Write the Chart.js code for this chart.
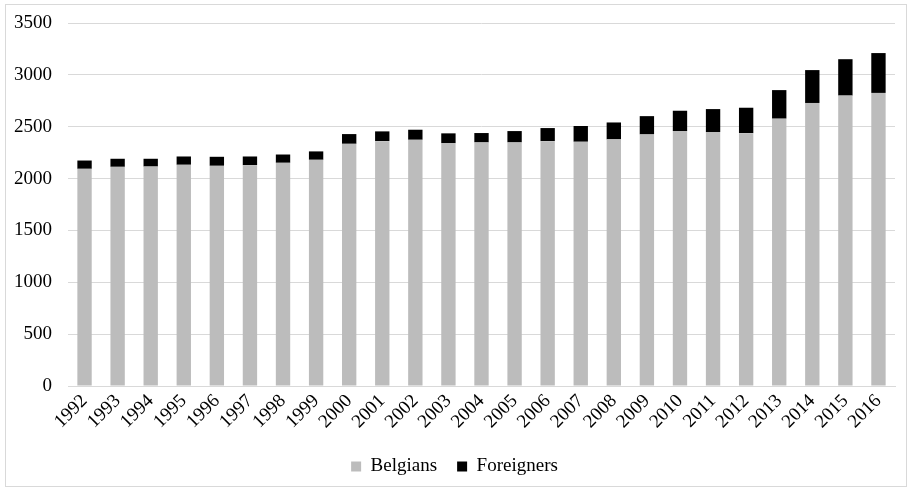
<!DOCTYPE html>
<html>
<head>
<meta charset="utf-8">
<script src="https://cdn.jsdelivr.net/npm/chart.js@4"></script>
<style>
  body { margin: 0; background: #fff; }
  #wrap { position: absolute; left: 5px; top: 4px; width: 900px; height: 481px; border: 1px solid #d9d9d9; }
</style>
</head>
<body>
<div id="wrap"><canvas id="chart"></canvas></div>
<script>
const years = ['1992', '1993', '1994', '1995', '1996', '1997', '1998', '1999', '2000', '2001', '2002', '2003', '2004',
  '2005', '2006', '2007', '2008', '2009', '2010', '2011', '2012', '2013', '2014', '2015', '2016'];
const belgians = [2094, 2113, 2116, 2133, 2123, 2129, 2152, 2181, 2335, 2361, 2374, 2342, 2349,
  2349, 2361, 2355, 2378, 2426, 2458, 2448, 2438, 2578, 2729, 2800, 2826];
const foreigners = [80, 78, 75, 80, 87, 84, 80, 81, 94, 94, 97, 94, 90,
  109, 126, 152, 163, 176, 196, 222, 245, 275, 317, 351, 384];

const serif = 'Liberation Serif';

const ctx = document.getElementById('chart').getContext('2d');
new Chart(ctx, {
  type: 'bar',
  data: {
    labels: years,
    datasets: [
      {label: 'Belgians', data: belgians, backgroundColor: '#bcbcbc', barPercentage: 0.62, categoryPercentage: 0.7},
      {label: 'Foreigners', data: foreigners, backgroundColor: '#000000', barPercentage: 0.62, categoryPercentage: 0.7}
    ]
  },
  options: {
    responsive: true,
    maintainAspectRatio: false,
    animation: false,
    layout: {padding: {left: 8, right: 11, top: 0, bottom: 0}},
    plugins: {
      legend: {
        position: 'bottom',
        labels: {
          boxWidth: 10, boxHeight: 10, padding: 20,
          color: '#000', font: {family: serif, size: 19}
        }
      },
      tooltip: {enabled: false}
    },
    scales: {
      x: {
        stacked: true,
        grid: {display: false, drawTicks: false},
        border: {color: '#d9d9d9'},
        afterFit: s => { s.paddingLeft = 0; },
        ticks: {
          color: '#000', font: {family: serif, size: 19},
          minRotation: 45, maxRotation: 45, padding: 4, autoSkip: false
        }
      },
      y: {
        stacked: true,
        min: 0, max: 3500,
        grid: {color: '#d9d9d9', drawTicks: false},
        border: {display: false},
        // keep the axis narrow like the original
        afterFit: s => { s.width = 54; s.paddingTop = 18; },
        ticks: {
          stepSize: 500, color: '#000', padding: 16,
          font: {family: serif, size: 19},
          callback: v => String(v)
        }
      }
    }
  }
});
</script>
</body>
</html>
